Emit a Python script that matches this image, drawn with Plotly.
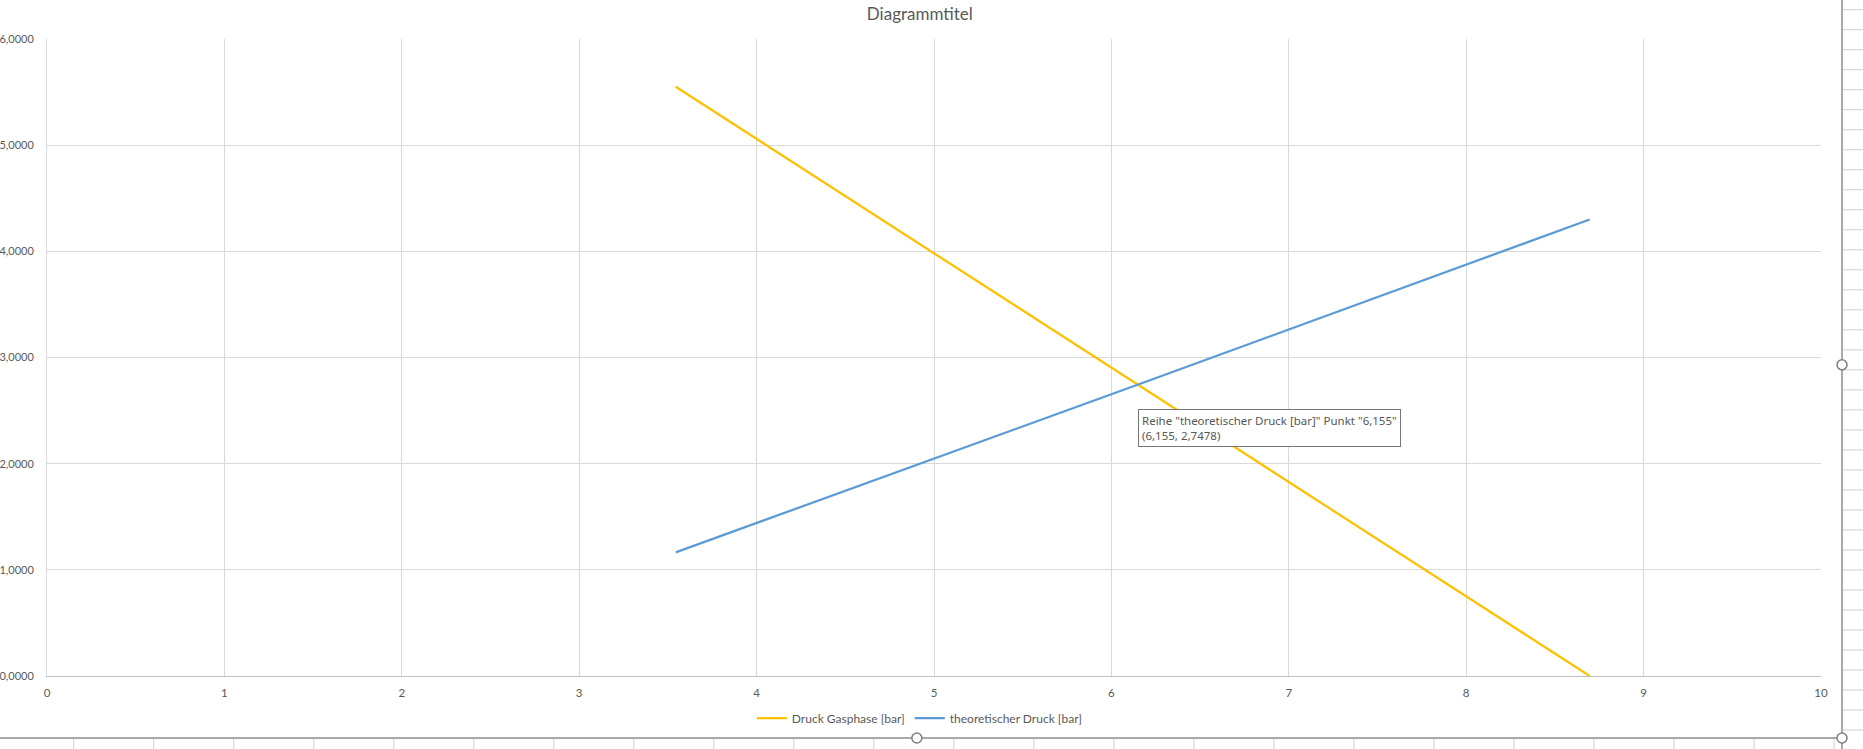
import plotly.graph_objects as go

# ---- data ----
x_gas = [3.544, 6.155, 8.696]
y_gas = [5.550, 2.738, 0.000]
x_theo = [3.544, 6.155, 8.696]
y_theo = [1.165, 2.7478, 4.300]
name_gas = "Druck Gasphase [bar]"
name_theo = "theoretischer Druck [bar]"
title_text = "Diagrammtitel"
tooltip_text = 'Reihe "theoretischer Druck [bar]" Punkt "6,155"<br>(6,155, 2,7478)'
x_ticks = list(range(0, 11))
y_ticks = [0, 1, 2, 3, 4, 5, 6]

W, H = 1863, 749
PL, PT, PR, PB = 47.3, 39.3, 1821.0, 676.0   # plot area in page pixels
L, T = PL, PT
R, B = W - PR, H - PB
PW, PH = PR - PL, PB - PT

def px(x):
    return (x - PL) / PW

def py(y):
    return (PB - y) / PH

fig = go.Figure()
fig.add_trace(go.Scatter(x=x_gas, y=y_gas, mode="lines", name=name_gas,
                         line=dict(color="#FFC000", width=2.25)))
fig.add_trace(go.Scatter(x=x_theo, y=y_theo, mode="lines", name=name_theo,
                         line=dict(color="#5B9BD5", width=2.25)))

font_fam = "Lato, 'Open Sans', sans-serif"
shapes = []
# worksheet frame decorations
frame_col = "#8C8C8C"
shapes.append(dict(type="line", xref="paper", yref="paper", x0=px(1842), x1=px(1842),
                   y0=py(0), y1=py(749), line=dict(color=frame_col, width=1.5)))
shapes.append(dict(type="line", xref="paper", yref="paper", x0=px(0), x1=px(1842),
                   y0=py(738), y1=py(738), line=dict(color=frame_col, width=1.5)))
for cx in range(74, 1842, 80):
    shapes.append(dict(type="line", xref="paper", yref="paper", x0=px(cx), x1=px(cx),
                       y0=py(739), y1=py(749), line=dict(color="#D0D0D0", width=1)))
for ry in range(10, 749, 20):
    shapes.append(dict(type="line", xref="paper", yref="paper", x0=px(1843), x1=px(1863),
                       y0=py(ry), y1=py(ry), line=dict(color="#D0D0D0", width=1)))
for (hx, hy) in [(1842, 365), (917, 738), (1842, 738)]:
    shapes.append(dict(type="circle", xref="paper", yref="paper",
                       x0=px(hx - 5), x1=px(hx + 5), y0=py(hy - 5), y1=py(hy + 5),
                       fillcolor="white", line=dict(color="#808080", width=1.5)))

fig.update_layout(
    width=W, height=H,
    margin=dict(l=L, r=R, t=T, b=B, autoexpand=False, pad=0),
    paper_bgcolor="white", plot_bgcolor="white",
    separators=",.",
    font=dict(family=font_fam, size=11, color="#595959"),
    title=dict(text=title_text, x=px(920), xanchor="center", xref="paper",
               y=1 - 14 / H, yanchor="middle",
               font=dict(family=font_fam, size=17, color="#595959"), automargin=False),
    xaxis=dict(range=[0, 10], tickvals=x_ticks, showgrid=True, gridcolor="#D9D9D9",
               gridwidth=1, zeroline=False, showline=True, linecolor="#BFBFBF",
               mirror=False, ticks="", ticklabelstandoff=6, automargin=False,
               tickfont=dict(family=font_fam, size=11.5, color="#595959")),
    yaxis=dict(range=[0, 6], tickvals=y_ticks, tickformat=".4f", showgrid=True,
               gridcolor="#D9D9D9", gridwidth=1, zeroline=False, showline=True,
               linecolor="#D9D9D9", ticks="", ticklabelstandoff=10, automargin=False,
               tickfont=dict(family=font_fam, size=11, color="#595959")),
    legend=dict(orientation="h", x=px(920), xanchor="center", y=py(718), yanchor="middle",
                font=dict(family=font_fam, size=12, color="#595959"),
                bgcolor="rgba(0,0,0,0)"),
    showlegend=True,
    shapes=shapes,
    hovermode=False,
)
fig.add_annotation(x=px(1138), y=py(409), xref="paper", yref="paper",
                   xanchor="left", yanchor="top", showarrow=False, align="left",
                   text=tooltip_text, bgcolor="white", bordercolor="#767676",
                   borderwidth=1, borderpad=3,
                   font=dict(family="'Noto Sans', sans-serif", size=11.5, color="#575757"))
fig.write_html("out.html", config={"displayModeBar": False},
               post_script="document.body.style.margin='0';")
